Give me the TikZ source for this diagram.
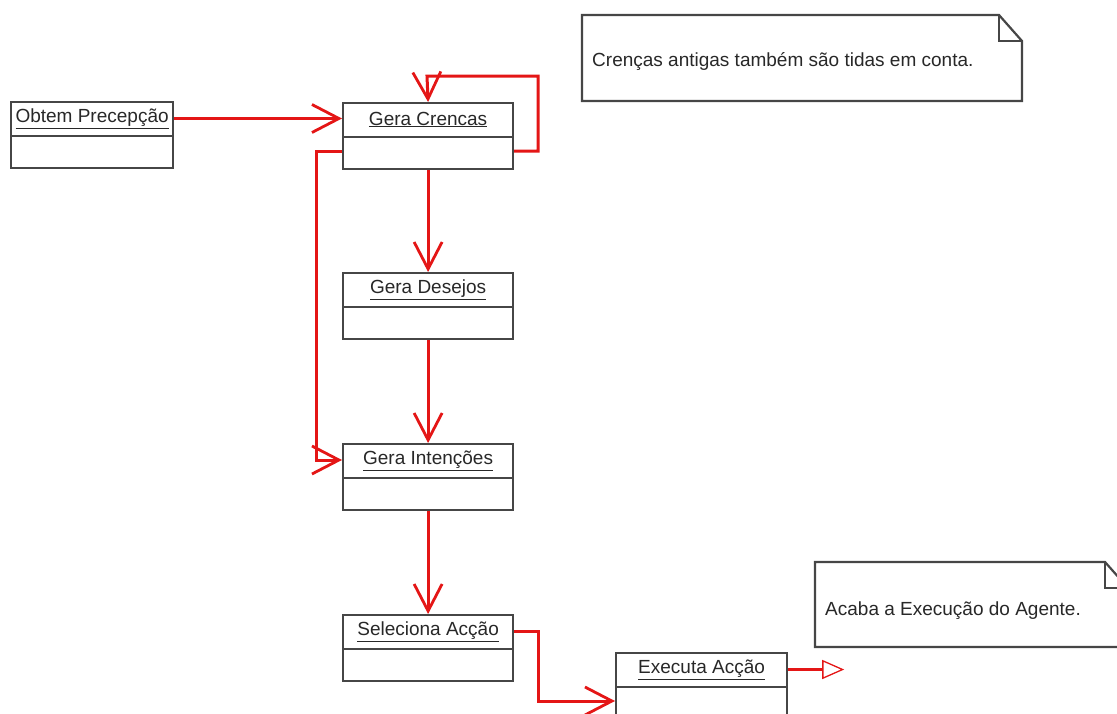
\documentclass[tikz,border=0pt]{standalone}
\usepackage{fontspec}
\setmainfont{Liberation Sans}
\usetikzlibrary{arrows.meta,calc}
\definecolor{lnred}{RGB}{228,22,22}
\definecolor{boxgray}{RGB}{70,70,70}
\definecolor{txtgray}{RGB}{40,40,40}
\tikzset{
  umlbox/.style={draw=boxgray, line width=2.2pt, fill=white, inner sep=0pt, minimum height=66pt},
  umltitle/.style={inner sep=0pt, text=txtgray, font=\fontsize{19}{22}\selectfont},
  notebox/.style={draw=boxgray, line width=2.2pt, fill=white},
  notetext/.style={inner sep=0pt, anchor=west, text=txtgray, font=\fontsize{19}{22}\selectfont},
  conn/.style={draw=lnred, line width=3pt, -{Straight Barb[length=27pt,width=28pt,line width=2.8pt]}},
  realize/.style={draw=lnred, line width=3.2pt, -{Triangle[open,length=22pt,width=19pt,line width=1.3pt]}}
}
\newcommand{\umlclass}[5]{%
  \node[umlbox, minimum width=#4pt, anchor=north west] (#1) at (#2,#3) {};
  \node[umltitle] (#1t) at ($(#1.north)+(0,17.5)$) {\underline{#5}};
  \draw[boxgray, line width=2.2pt] ($(#1.north west)+(0,35)$) -- ($(#1.north east)+(0,35)$);
}
\begin{document}
\begin{tikzpicture}[x=1pt,y=-1pt]
\useasboundingbox (0,0) rectangle (1117,713);
\clip (0,0) rectangle (1117,713);

% notes
\draw[notebox] (582,15) -- (999,15) -- (1022,41) -- (1022,101) -- (582,101) -- cycle;
\draw[boxgray, line width=2.2pt] (999,15) -- (999,41) -- (1022,41);
\node[notetext] (n1) at (592,62) {Crenças antigas também são tidas em conta.};

\draw[notebox] (815,562) -- (1105,562) -- (1128,588) -- (1128,647) -- (815,647) -- cycle;
\draw[boxgray, line width=2.2pt] (1105,562) -- (1105,588) -- (1128,588);
\node[notetext] (n2) at (825,611) {Acaba a Execução do Agente.};

% classes
\umlclass{ob}{10}{101}{162}{Obtem Precepção}
\umlclass{gc}{342}{102}{170}{Gera Crencas}
\umlclass{gd}{342}{272}{170}{Gera Desejos}
\umlclass{gi}{342}{443}{170}{Gera Intenções}
\umlclass{sa}{342}{614}{170}{Seleciona Acção}
\umlclass{ex}{615}{652}{171}{Executa Acção}

% connector helpers
\coordinate (l1) at (538,151);
\coordinate (l2) at (538,76);
\coordinate (l3) at (427,76);
\coordinate (b1) at (316,151);
\coordinate (b2) at (316,460);
\coordinate (s1) at (538,631);
\coordinate (s2) at (538,701);
\coordinate (t1) at ($(ex.east |- ext)+(56,0)$);

% connectors
\draw[conn] (ob.east |- obt) -- (gc.west |- obt);
\draw[conn] (gc.east |- l1) -- (l1) -- (l2) -- (l3) -- (gc.north);
\draw[conn] (gc.south) -- (gd.north);
\draw[conn] (gc.west |- b1) -- (b1) -- (b2) -- (gi.west |- b2);
\draw[conn] (gd.south) -- (gi.north);
\draw[conn] (gi.south) -- (sa.north);
\draw[conn] (sa.east |- s1) -- (s1) -- (s2) -- (ex.west |- s2);
\draw[realize] (ex.east |- ext) -- (t1);
\end{tikzpicture}
\end{document}
